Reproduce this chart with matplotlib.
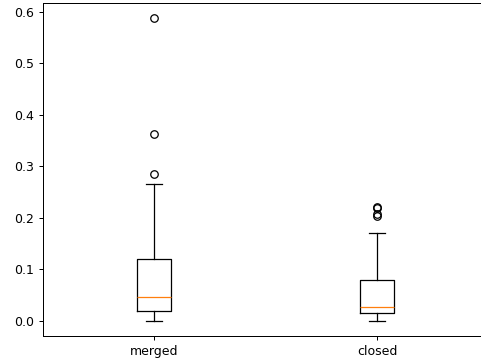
import matplotlib
matplotlib.use('Agg')
import matplotlib.pyplot as plt

labels = ['merged', 'closed']
q1 = [0.019, 0.016]
median = [0.047, 0.027]
q3 = [0.120, 0.079]
whisker_low = [0.0, 0.0]
whisker_high = [0.266, 0.171]
fliers = [[0.285, 0.363, 0.588],
          [0.203, 0.207, 0.220, 0.222]]


def main():
    stats = []
    for i in range(len(labels)):
        stats.append(dict(label=labels[i], q1=q1[i], med=median[i], q3=q3[i],
                          whislo=whisker_low[i], whishi=whisker_high[i],
                          fliers=fliers[i]))

    dpi = 90
    fig = plt.figure(figsize=(482 / dpi, 362 / dpi), dpi=dpi)
    ax = fig.add_axes([42.5 / 482, 26 / 362, 446 / 482, 333 / 362])
    ax.bxp(stats)

    fig.savefig('out.png', dpi=dpi)
    plt.close(fig)


if __name__ == '__main__':
    main()
